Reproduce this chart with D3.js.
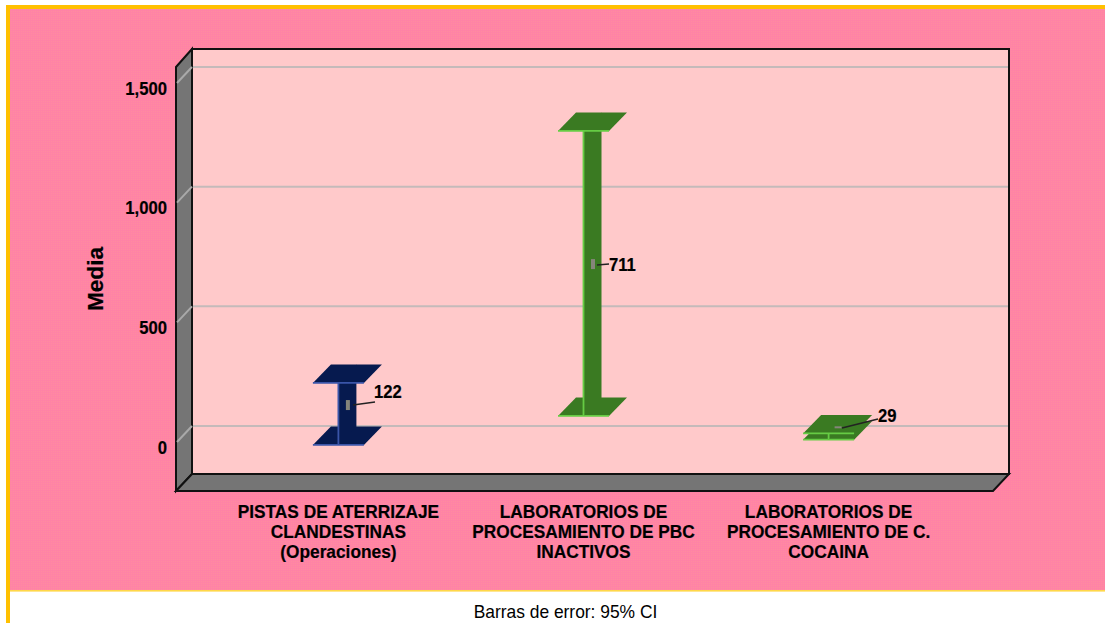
<!DOCTYPE html>
<html>
<head>
<meta charset="utf-8">
<script src="https://cdn.jsdelivr.net/npm/d3@7"></script>
<style>
html, body { margin: 0; padding: 0; background: #fff; }
svg { display: block; }
text { font-family: "Liberation Sans", Arial, sans-serif; fill: #000; }
.bold { font-weight: bold; stroke: #000; stroke-width: 0.2; }
</style>
</head>
<body>
<div id="chart"></div>
<script>
// data
var categories = ["pistas", "pbc", "cocaina"];
var categoryLines = [
	["PISTAS DE ATERRIZAJE", "CLANDESTINAS", "(Operaciones)"],
	["LABORATORIOS DE", "PROCESAMIENTO DE PBC", "INACTIVOS"],
	["LABORATORIOS DE", "PROCESAMIENTO DE C.", "COCAINA"]
];
var means = [122, 711, 29];
var lowerCI = [-8, 113, 14];
var upperCI = [251, 1304, 40];
var yTicks = [0, 500, 1000, 1500];

// layout
var width = 1105, height = 623;
var front = { left: 176, right: 993, bottom: 491 };
var back = { top: 49, right: 1009, bottom: 474, left: 192 };
var wallDy = 17;
var capDx = 18, capDy = 18.5, capHalf = 25.5;
var barFill = ["#061a4f", "#3a7a22", "#3a7a22"];
var barEdge = ["#3a55a8", "#66cc44", "#66cc44"];
var labelPos = [[374, 391], [609, 264], [878, 415]];
var leaderStart = [[353, 405], [597, 265], [842, 428]];
var leaderEnd = [[375, 402], [609, 264], [878, 419]];
var markerSize = [[4, 10], [4, 10], [7, 2]];

// the original font is taller and narrower than Liberation, so squeeze it
function squeeze(selection, factor) {
	selection.each(function() {
		d3.select(this).attr("textLength", this.getComputedTextLength() * factor)
			.attr("lengthAdjust", "spacingAndGlyphs");
	});
}

var svg = d3.select("#chart").append("svg").attr("width", width).attr("height", height);

// the pink has a fine dither, kept low contrast
var defs = svg.append("defs");
var dither = defs.append("pattern").attr("id", "dither").attr("patternUnits", "userSpaceOnUse")
	.attr("width", 2).attr("height", 2);
dither.append("rect").attr("width", 2).attr("height", 2).attr("fill", "#ff83a6");
dither.append("rect").attr("x", 1).attr("y", 1).attr("width", 1).attr("height", 1).attr("fill", "#ff8d9e");

// scales work on the front plane of the box
var y = d3.scaleLinear().domain([0, 1500]).range([443, 84]);
var x = d3.scalePoint().domain(categories).range([front.left - 1, front.right - 1]).padding(2 / 3);

// page background and gold border
svg.append("rect").attr("x", 6).attr("y", 5).attr("width", width - 6).attr("height", height - 5).attr("fill", "#ffc000");
svg.append("rect").attr("x", 10).attr("y", 9).attr("width", width - 10).attr("height", 582).attr("fill", "url(#dither)");
svg.append("rect").attr("x", 10).attr("y", 590).attr("width", width - 10).attr("height", 1.5).attr("fill", "#ffd84a");
svg.append("rect").attr("x", 10).attr("y", 591.5).attr("width", width - 10).attr("height", height - 591.5).attr("fill", "#fff");

// 3d box
svg.append("polygon")
	.attr("points", [[front.left, 67], [back.left, back.top], [back.left, back.bottom], [front.left, front.bottom]].join(" "))
	.attr("fill", "#757575").attr("stroke", "#111").attr("stroke-width", 2);
svg.append("polygon")
	.attr("points", [[front.left, front.bottom], [back.left, back.bottom], [back.right, back.bottom], [front.right, front.bottom]].join(" "))
	.attr("fill", "#757575").attr("stroke", "#111").attr("stroke-width", 2);
svg.append("rect").attr("x", back.left).attr("y", back.top)
	.attr("width", back.right - back.left).attr("height", back.bottom - back.top)
	.attr("fill", "#ffc9ca").attr("stroke", "#111").attr("stroke-width", 2);

// gridlines run along the wall and the back
var grid = svg.append("g").selectAll("g").data(yTicks).join("g")
	.attr("fill", "none").attr("stroke-width", 2);
grid.append("line").attr("x1", front.left + 1).attr("x2", back.left)
	.attr("y1", function(d) { return y(d) - 1; }).attr("y2", function(d) { return y(d) - wallDy; })
	.attr("stroke", "#a9a9a9");
grid.append("line").attr("x1", back.left + 1).attr("x2", back.right - 1)
	.attr("y1", function(d) { return y(d) - wallDy; }).attr("y2", function(d) { return y(d) - wallDy; })
	.attr("stroke", "#c4baba");

// tick labels
svg.append("g").selectAll("text").data(yTicks).join("text")
	.attr("class", "bold")
	.attr("x", 167).attr("y", function(d) { return y(d) + 10.5; })
	.attr("text-anchor", "end").attr("font-size", 18.5)
	.text(d3.format(","))
	.call(squeeze, 0.9);

// axis title
svg.append("text").attr("class", "bold").attr("transform", "translate(103,279) rotate(-90)")
	.attr("text-anchor", "middle").attr("font-size", 22).attr("textLength", 64).attr("lengthAdjust", "spacingAndGlyphs").text("Media");

// category labels
var catGroups = svg.append("g").selectAll("g").data(categories).join("g");
catGroups.selectAll("text").data(function(d, i) {
	return categoryLines[i].map(function(t) { return { text: t, cat: d }; });
}).join("text")
	.attr("class", "bold")
	.attr("x", function(d) { return x(d.cat); })
	.attr("y", function(d, i) { return 517.5 + i * 20; })
	.attr("text-anchor", "middle").attr("font-size", 18.5)
	.text(function(d) { return d.text; })
	.call(squeeze, 0.935);

function capPoints(cx, v) {
	var f = y(v);
	return [[cx - capHalf, f], [cx + capHalf, f], [cx + capHalf + capDx, f - capDy], [cx - capHalf + capDx, f - capDy]].join(" ");
}

// error bars
var bars = svg.append("g").selectAll("g").data(categories).join("g");
bars.each(function(c, i) {
	var g = d3.select(this), cx = x(c);
	var yLow = y(lowerCI[i]), yHigh = y(upperCI[i]);

	g.append("polygon").attr("points", capPoints(cx, lowerCI[i])).attr("fill", barFill[i]);
	g.append("line").attr("x1", cx - capHalf).attr("x2", cx + capHalf).attr("y1", yLow).attr("y2", yLow)
		.attr("stroke", barEdge[i]).attr("stroke-width", 1.8);

	g.append("polygon")
		.attr("points", [[cx, yHigh], [cx + capDx, yHigh - capDy], [cx + capDx, yLow - capDy], [cx, yLow]].join(" "))
		.attr("fill", barFill[i]);
	g.append("line").attr("x1", cx).attr("x2", cx).attr("y1", yHigh).attr("y2", yLow)
		.attr("stroke", barEdge[i]).attr("stroke-width", 1.8);

	g.append("polygon").attr("points", capPoints(cx, upperCI[i])).attr("fill", barFill[i]);
	g.append("line").attr("x1", cx - capHalf).attr("x2", cx + capHalf).attr("y1", yHigh).attr("y2", yHigh)
		.attr("stroke", barEdge[i]).attr("stroke-width", 1.8);

	// mean marker at mid depth
	g.append("rect").attr("x", cx + capDx / 2 - markerSize[i][0] / 2 + 0.5)
		.attr("y", y(means[i]) - capDy / 2 - markerSize[i][1] / 2 + 0.5)
		.attr("width", markerSize[i][0]).attr("height", markerSize[i][1]).attr("fill", "#85857a");

	g.append("line").attr("x1", leaderStart[i][0]).attr("y1", leaderStart[i][1])
		.attr("x2", leaderEnd[i][0]).attr("y2", leaderEnd[i][1])
		.attr("stroke", "#222").attr("stroke-width", 1.3);
	g.append("text").attr("class", "bold").attr("x", labelPos[i][0]).attr("y", labelPos[i][1] + 6.5)
		.attr("font-size", 18.5).text(means[i])
		.call(squeeze, 0.9);
});

// footer
svg.append("text").attr("x", 565.5).attr("y", 618).attr("text-anchor", "middle")
	.attr("font-size", 18.5).text("Barras de error: 95% CI")
	.call(squeeze, 0.94);
</script>
</body>
</html>
